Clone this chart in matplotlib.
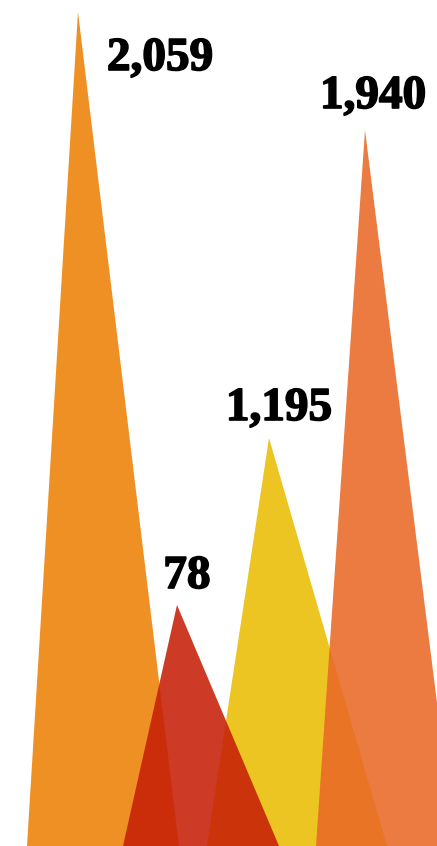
"""spike chart: four triangles with bold value labels"""

import matplotlib
matplotlib.use('Agg')
import matplotlib.pyplot as plt
import matplotlib.patheffects as pe
from matplotlib.patches import Polygon

# values shown on the labels
values = [2059, 78, 1195, 1940]
# spike heights as drawn (px from the bottom edge)
heights = [834, 241, 408, 716]
colors = ['#EC8104', '#C71F07', '#EABD03', '#E96926']

# layout: peak x, base left x, base right x (at the bottom edge)
peak_x = [78, 177, 269, 365]
base_left = [27, 123, 207, 316]
base_right = [179, 279, 387, 455]
# label anchor (centre x, baseline y)
label_xy = [(160, 776), (187, 258), (279, 426), (373, 738)]
draw_order = [0, 2, 1, 3]

W, H = 437, 846
fig = plt.figure(figsize=(W / 100, H / 100), dpi=100)
ax = fig.add_axes([0, 0, 1, 1])
ax.set_xlim(0, W)
ax.set_ylim(0, H)
ax.axis('off')

for i in draw_order:
    tri = Polygon(
        [(base_left[i], 0), (peak_x[i], heights[i]), (base_right[i], 0)],
        closed=True, facecolor=colors[i], edgecolor='none', alpha=0.88
    )
    ax.add_patch(tri)

for i, v in enumerate(values):
    x, y = label_xy[i]
    ax.text(
        x, y, f'{v:,}',
        ha='center', va='baseline',
        fontsize=34, fontweight='bold', family='Liberation Serif',
        color='black',
        path_effects=[pe.withStroke(linewidth=1.2, foreground='black')]
    )

fig.savefig('out.png', dpi=100)
